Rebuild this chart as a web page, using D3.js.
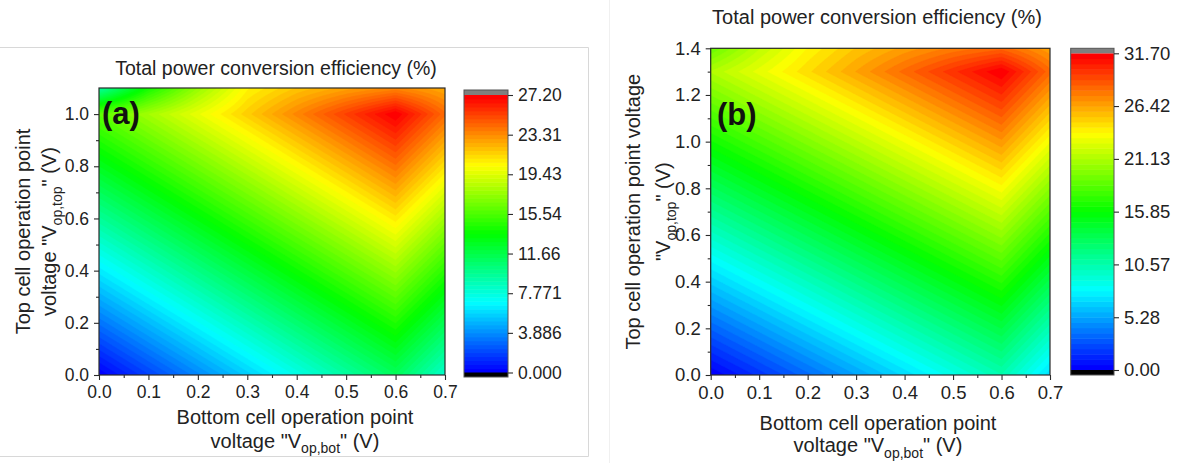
<!DOCTYPE html>
<html><head><meta charset="utf-8">
<script src="https://cdn.jsdelivr.net/npm/d3@7"></script>
<style>
html,body{margin:0;padding:0;background:#fff;}
svg{display:block;font-family:"Liberation Sans", Arial, sans-serif;}
</style></head><body>
<svg id="c" width="1177" height="463"></svg>
<script>
// ---------------- DATA ----------------
const vBot = [0, 0.1, 0.2, 0.3, 0.4, 0.5, 0.6, 0.7];
const vTopA = [0, 0.1, 0.2, 0.3, 0.4, 0.5, 0.6, 0.7, 0.8, 0.9, 1.0, 1.1];
const vTopB = [0, 0.1, 0.2, 0.3, 0.4, 0.5, 0.6, 0.7, 0.8, 0.9, 1.0, 1.1, 1.2, 1.3, 1.4];
// efficiency (%) rows = vTop (from 0 upward), columns = vBot
const effA = [
  [0.00, 1.87, 3.73, 5.60, 7.47, 9.33, 11.20, 8.20],
  [1.60, 3.47, 5.33, 7.20, 9.07, 10.93, 12.80, 9.80],
  [3.20, 5.07, 6.93, 8.80, 10.67, 12.53, 14.40, 11.40],
  [4.80, 6.67, 8.53, 10.40, 12.27, 14.13, 16.00, 13.00],
  [6.40, 8.27, 10.13, 12.00, 13.87, 15.73, 17.60, 14.60],
  [8.00, 9.87, 11.73, 13.60, 15.47, 17.33, 19.20, 16.20],
  [9.60, 11.47, 13.33, 15.20, 17.07, 18.93, 20.80, 17.80],
  [11.20, 13.07, 14.93, 16.80, 18.67, 20.53, 22.40, 19.40],
  [12.80, 14.67, 16.53, 18.40, 20.27, 22.13, 24.00, 21.00],
  [14.40, 16.27, 18.13, 20.00, 21.87, 23.73, 25.60, 22.60],
  [16.00, 17.87, 19.73, 21.60, 23.47, 25.33, 27.20, 24.20],
  [9.30, 14.00, 17.50, 20.50, 21.80, 22.70, 23.40, 22.50]
];
const effB = [
  [0.00, 1.75, 3.50, 5.25, 7.00, 8.75, 10.50, 7.00],
  [1.63, 3.38, 5.13, 6.88, 8.63, 10.38, 12.13, 8.63],
  [3.26, 5.01, 6.76, 8.51, 10.26, 12.01, 13.76, 10.26],
  [4.89, 6.64, 8.39, 10.14, 11.89, 13.64, 15.39, 11.89],
  [6.52, 8.27, 10.02, 11.77, 13.52, 15.27, 17.02, 13.52],
  [8.15, 9.90, 11.65, 13.40, 15.15, 16.90, 18.65, 15.15],
  [9.78, 11.53, 13.28, 15.03, 16.78, 18.53, 20.28, 16.78],
  [11.41, 13.16, 14.91, 16.66, 18.41, 20.16, 21.91, 18.41],
  [13.04, 14.79, 16.54, 18.29, 20.04, 21.79, 23.54, 20.04],
  [14.67, 16.42, 18.17, 19.92, 21.67, 23.42, 25.17, 21.67],
  [16.30, 18.05, 19.80, 21.55, 23.30, 25.05, 26.80, 23.30],
  [17.93, 19.68, 21.43, 23.18, 24.93, 26.68, 28.43, 24.93],
  [19.56, 21.31, 23.06, 24.81, 26.56, 28.31, 30.06, 26.56],
  [21.19, 22.94, 24.69, 26.44, 28.19, 29.94, 31.70, 28.19],
  [19.00, 21.60, 23.80, 25.40, 26.60, 27.60, 28.30, 26.50]
];
const xTicks = [0, 0.1, 0.2, 0.3, 0.4, 0.5, 0.6, 0.7];
const xMinor = [0.05, 0.15, 0.25, 0.35, 0.45, 0.55, 0.65];
const yTicksA = [0, 0.2, 0.4, 0.6, 0.8, 1.0];
const yMinorA = [0.1, 0.3, 0.5, 0.7, 0.9];
const yTicksB = [0, 0.2, 0.4, 0.6, 0.8, 1.0, 1.2, 1.4];
const yMinorB = [0.1, 0.3, 0.5, 0.7, 0.9, 1.1, 1.3];
const cbTicksA = [0, 3.886, 7.771, 11.66, 15.54, 19.43, 23.31, 27.20];
const cbLabelsA = ["0.000", "3.886", "7.771", "11.66", "15.54", "19.43", "23.31", "27.20"];
const cbTicksB = [0, 5.28, 10.57, 15.85, 21.13, 26.42, 31.70];
const cbLabelsB = ["0.00", "5.28", "10.57", "15.85", "21.13", "26.42", "31.70"];
const zMaxA = 27.2, zMaxB = 31.7;

// ---------------- DRAWING ----------------
const svg = d3.select("#c");
const palette = d3.scaleLinear()
  .domain([0, 0.25, 0.5, 0.75, 1])
  .range(["#0000ff", "#00ffff", "#00ff00", "#ffff00", "#ff0000"])
  .interpolate(d3.interpolateRgb);

// light panel borders (screenshot frames)
svg.append("path").attr("d", "M0,47.5H588.5V456.5H0").attr("fill", "none").attr("stroke", "#d8d8d8").attr("stroke-width", 1);
svg.append("line").attr("x1", 609.5).attr("x2", 609.5).attr("y1", 0).attr("y2", 463).attr("stroke", "#f0f0f0");

function bilinear(grid, xs, ys, x, y) {
  let i = Math.min(xs.length - 2, Math.max(0, d3.bisectRight(xs, x) - 1));
  let j = Math.min(ys.length - 2, Math.max(0, d3.bisectRight(ys, y) - 1));
  const tx = (x - xs[i]) / (xs[i + 1] - xs[i]);
  const ty = (y - ys[j]) / (ys[j + 1] - ys[j]);
  const v00 = grid[j][i], v10 = grid[j][i + 1], v01 = grid[j + 1][i], v11 = grid[j + 1][i + 1];
  return v00 * (1 - tx) * (1 - ty) + v10 * tx * (1 - ty) + v01 * (1 - tx) * ty + v11 * tx * ty;
}

function subText(sel, parts, fs) {
  // parts: [text, sub, text]
  sel.append("tspan").text(parts[0]);
  sel.append("tspan").text(parts[1]).attr("font-size", fs * 0.7).attr("dy", fs * 0.28);
  sel.append("tspan").text(parts[2]).attr("dy", -fs * 0.28);
}

function panel(cfg) {
  const g = svg.append("g");
  const xs = d3.scaleLinear().domain([0, 0.7]).range([cfg.px0, cfg.px1]);
  const ys = d3.scaleLinear().domain([0, cfg.yMax]).range([cfg.py1, cfg.py0]);
  const clipId = "clip" + cfg.id;
  svg.append("defs").append("clipPath").attr("id", clipId)
    .append("rect").attr("x", cfg.px0).attr("y", cfg.py0)
    .attr("width", cfg.px1 - cfg.px0).attr("height", cfg.py1 - cfg.py0);

  // fine sampling of coarse grid for filled contours
  const d = 0.005;
  const nx = Math.round(0.7 / d) + 1;
  const ny = Math.round(cfg.yMax / d) + 1;
  const values = new Float64Array(nx * ny);
  for (let j = 0; j < ny; j++)
    for (let i = 0; i < nx; i++)
      values[j * nx + i] = bilinear(cfg.grid, vBot, cfg.yVals, i * d, j * d);

  const N = cfg.nBands;
  const step = cfg.zMax / N;
  const th = d3.range(N).map(k => k * step);
  const color = k => palette(k / (N - 1));
  const contours = d3.contours().size([nx, ny]).thresholds(th)(values);
  const proj = d3.geoTransform({
    point: function (px, py) { this.stream.point(xs((px - 0.5) * d), ys((py - 0.5) * d)); }
  });
  const path = d3.geoPath(proj);
  const cg = g.append("g").attr("clip-path", `url(#${clipId})`);
  cg.selectAll("path").data(contours).join("path")
    .attr("d", path)
    .attr("fill", (c, k) => color(k))
    .attr("stroke", (c, k) => color(k)).attr("stroke-width", 0.4);

  // frame
  g.append("rect").attr("x", cfg.px0).attr("y", cfg.py0)
    .attr("width", cfg.px1 - cfg.px0).attr("height", cfg.py1 - cfg.py0)
    .attr("fill", "none").attr("stroke", "#2a2a2a").attr("stroke-width", 1.2);

  // axes
  const styleAxis = (a, fs) => {
    a.select(".domain").remove();
    a.selectAll("line").attr("stroke", "#2a2a2a").attr("stroke-width", 1.1);
    a.selectAll("text").attr("fill", "#222").attr("font-size", fs).attr("font-family", '"Liberation Sans", Arial, sans-serif');
  };
  g.append("g").attr("transform", `translate(0,${cfg.py1})`)
    .call(d3.axisBottom(xs).tickValues(xTicks).tickFormat(d3.format(".1f")).tickSize(5).tickPadding(6))
    .call(a => styleAxis(a, cfg.tickFs));
  g.append("g").attr("transform", `translate(0,${cfg.py1})`)
    .call(d3.axisBottom(xs).tickValues(xMinor).tickFormat("").tickSize(3))
    .call(a => styleAxis(a, cfg.tickFs));
  g.append("g").attr("transform", `translate(${cfg.px0},0)`)
    .call(d3.axisLeft(ys).tickValues(cfg.yTicks).tickFormat(d3.format(".1f")).tickSize(5).tickPadding(5))
    .call(a => styleAxis(a, cfg.tickFs));
  g.append("g").attr("transform", `translate(${cfg.px0},0)`)
    .call(d3.axisLeft(ys).tickValues(cfg.yMinor).tickFormat("").tickSize(3))
    .call(a => styleAxis(a, cfg.tickFs));

  // colorbar
  const zs = d3.scaleLinear().domain([0, cfg.zMax]).range([cfg.cbBot, cfg.cbTop]);
  const cb = g.append("g");
  cb.selectAll("rect.band").data(th).join("rect").attr("class", "band")
    .attr("x", cfg.cbx0).attr("width", cfg.cbx1 - cfg.cbx0)
    .attr("y", t => zs(t + step)).attr("height", t => zs(t) - zs(t + step) + 0.5)
    .attr("fill", (t, k) => color(k));
  cb.append("rect").attr("x", cfg.cbx0).attr("width", cfg.cbx1 - cfg.cbx0)
    .attr("y", cfg.cbGray).attr("height", cfg.cbTop - cfg.cbGray).attr("fill", "#7f7f7f");
  cb.append("rect").attr("x", cfg.cbx0).attr("width", cfg.cbx1 - cfg.cbx0)
    .attr("y", cfg.cbBot).attr("height", cfg.cbBlack - cfg.cbBot).attr("fill", "#000");
  cb.append("rect").attr("x", cfg.cbx0).attr("width", cfg.cbx1 - cfg.cbx0)
    .attr("y", cfg.cbGray).attr("height", cfg.cbBlack - cfg.cbGray)
    .attr("fill", "none").attr("stroke", "#555").attr("stroke-width", 1);
  cb.append("g").attr("transform", `translate(${cfg.cbx1},0)`)
    .call(d3.axisRight(zs).tickValues(cfg.cbTicks).tickFormat((v, i) => cfg.cbLabels[i]).tickSize(5).tickPadding(5))
    .call(a => styleAxis(a, cfg.cbFs));

  // panel label
  g.append("text").attr("x", cfg.labX).attr("y", cfg.labY).text(cfg.label)
    .attr("font-size", 31).attr("font-weight", "bold").attr("fill", "#111");

  // chart title
  g.append("text").attr("x", cfg.titleX).attr("y", cfg.titleY).attr("text-anchor", "middle")
    .attr("font-size", cfg.titleFs).attr("fill", "#222").text("Total power conversion efficiency (%)");

  // x title
  g.append("text").attr("x", cfg.xtX).attr("y", cfg.xtY1).attr("text-anchor", "middle")
    .attr("font-size", 20).attr("fill", "#222").text("Bottom cell operation point");
  const xt2 = g.append("text").attr("x", cfg.xtX).attr("y", cfg.xtY2).attr("text-anchor", "middle")
    .attr("font-size", 20).attr("fill", "#222");
  subText(xt2, ['voltage "V', "op,bot", '" (V)'], 20);

  // y title
  const cy = (cfg.py0 + cfg.py1) / 2;
  g.append("text").attr("transform", `translate(${cfg.ytX1},${cy}) rotate(-90)`).attr("text-anchor", "middle")
    .attr("font-size", 20).attr("fill", "#222").text(cfg.yLine1);
  const yt2 = g.append("text").attr("transform", `translate(${cfg.ytX2},${cy}) rotate(-90)`).attr("text-anchor", "middle")
    .attr("font-size", 20).attr("fill", "#222");
  subText(yt2, [cfg.yLine2a, "op,top", '" (V)'], 20);
}

panel({
  id: "A", grid: effA, yVals: vTopA, yMax: 1.1, zMax: zMaxA, nBands: 70,
  px0: 99, px1: 445, py0: 88, py1: 375,
  yTicks: yTicksA, yMinor: yMinorA, tickFs: 17.5,
  cbx0: 464, cbx1: 508, cbGray: 90, cbTop: 95, cbBot: 372.5, cbBlack: 377,
  cbTicks: cbTicksA, cbLabels: cbLabelsA, cbFs: 17.5,
  label: "(a)", labX: 102, labY: 124,
  titleX: 276, titleY: 75, titleFs: 19.5,
  xtX: 295, xtY1: 424, xtY2: 447.5,
  ytX1: 30, ytX2: 56, yLine1: "Top cell operation point", yLine2a: 'voltage "V'
});
panel({
  id: "B", grid: effB, yVals: vTopB, yMax: 1.4, zMax: zMaxB, nBands: 60,
  px0: 710.7, px1: 1050, py0: 48.3, py1: 375,
  yTicks: yTicksB, yMinor: yMinorB, tickFs: 18.5,
  cbx0: 1070.7, cbx1: 1114, cbGray: 48.3, cbTop: 53.3, cbBot: 370, cbBlack: 375,
  cbTicks: cbTicksB, cbLabels: cbLabelsB, cbFs: 18.5,
  label: "(b)", labX: 717, labY: 125,
  titleX: 877, titleY: 24, titleFs: 20,
  xtX: 878, xtY1: 430, xtY2: 452,
  ytX1: 640, ytX2: 670, yLine1: "Top cell operation point voltage", yLine2a: '"V'
});
</script>
</body></html>
